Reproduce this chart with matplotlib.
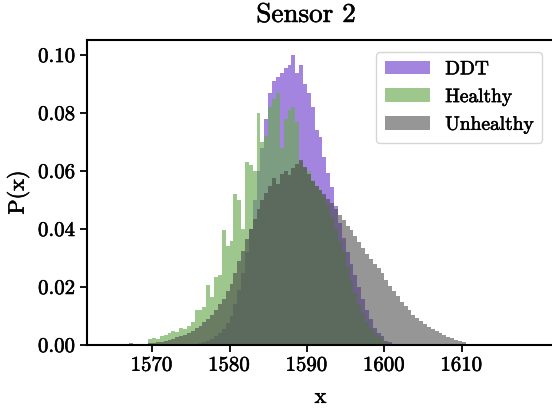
import numpy as np
import matplotlib
matplotlib.use("Agg")
import matplotlib.pyplot as plt
import matplotlib.patheffects as pe

# ---- data (histogram densities, bin width 0.5, left edges from 1566.0) ----
bin_start = 1566.0
bin_width = 0.5

ddt = [
    0, 0,            # 1566
    0, 0,            # 1567
    0, 0,            # 1568
    0, 0,            # 1569
    0, 0,            # 1570
    0, 0,            # 1571
    0, 0.0002,       # 1572
    0.0002, 0.0002,  # 1573
    0.0002, 0.0003,  # 1574
    0.0004, 0.0005,  # 1575
    0.0007, 0.0010,  # 1576
    0.0015, 0.0020,  # 1577
    0.0030, 0.0040,  # 1578
    0.0055, 0.0075,  # 1579
    0.0100, 0.0140,  # 1580
    0.0190, 0.0250,  # 1581
    0.0320, 0.0400,  # 1582
    0.0500, 0.0600,  # 1583
    0.0680, 0.0780,  # 1584
    0.0870, 0.0910,  # 1585
    0.0925, 0.0938,  # 1586
    0.0955, 0.0966,  # 1587
    0.1000, 0.0938,  # 1588
    0.0966, 0.0900,  # 1589
    0.0869, 0.0820,  # 1590
    0.0740, 0.0717,  # 1591
    0.0650, 0.0593,  # 1592
    0.0545, 0.0480,  # 1593
    0.0420, 0.0370,  # 1594
    0.0320, 0.0280,  # 1595
    0.0240, 0.0200,  # 1596
    0.0160, 0.0120,  # 1597
    0.0090, 0.0060,  # 1598
    0.0040, 0.0030,  # 1599
    0.0015, 0.0010,  # 1600
    0.0005, 0,       # 1601
    0, 0, 0, 0, 0, 0, 0, 0, 0, 0,  # 1602-1606
    0, 0, 0, 0, 0, 0, 0, 0, 0, 0,  # 1607-1611
]

healthy = [
    0, 0,            # 1566
    0, 0,            # 1567
    0, 0,            # 1568
    0.0005, 0.0020,  # 1569
    0.0025, 0.0020,  # 1570
    0.0030, 0.0035,  # 1571
    0.0040, 0.0050,  # 1572
    0.0045, 0.0060,  # 1573
    0.0055, 0.0065,  # 1574
    0.0080, 0.0120,  # 1575
    0.0120, 0.0130,  # 1576
    0.0207, 0.0167,  # 1577
    0.0236, 0.0240,  # 1578
    0.0397, 0.0340,  # 1579
    0.0360, 0.0520,  # 1580
    0.0500, 0.0400,  # 1581
    0.0630, 0.0620,  # 1582
    0.0600, 0.0800,  # 1583
    0.0700, 0.0720,  # 1584
    0.0820, 0.0850,  # 1585
    0.0870, 0.0680,  # 1586
    0.0780, 0.0810,  # 1587
    0.0820, 0.0770,  # 1588
    0.0630, 0.0610,  # 1589
    0.0600, 0.0570,  # 1590
    0.0550, 0.0530,  # 1591
    0.0510, 0.0480,  # 1592
    0.0440, 0.0400,  # 1593
    0.0360, 0.0320,  # 1594
    0.0270, 0.0220,  # 1595
    0.0180, 0.0140,  # 1596
    0.0110, 0.0080,  # 1597
    0.0060, 0.0040,  # 1598
    0.0030, 0.0020,  # 1599
    0.0010, 0.0005,  # 1600
    0, 0,            # 1601
    0, 0, 0, 0, 0, 0, 0, 0, 0, 0,  # 1602-1606
    0, 0, 0, 0, 0, 0, 0, 0, 0, 0,  # 1607-1611
]

unhealthy = [
    0, 0,            # 1566
    0.0006, 0,       # 1567
    0, 0.0003,       # 1568
    0.0005, 0.0006,  # 1569
    0.0008, 0.0010,  # 1570
    0.0012, 0.0015,  # 1571
    0.0018, 0.0022,  # 1572
    0.0026, 0.0031,  # 1573
    0.0036, 0.0042,  # 1574
    0.0050, 0.0058,  # 1575
    0.0067, 0.0078,  # 1576
    0.0090, 0.0105,  # 1577
    0.0122, 0.0140,  # 1578
    0.0160, 0.0185,  # 1579
    0.0210, 0.0250,  # 1580
    0.0290, 0.0325,  # 1581
    0.0365, 0.0400,  # 1582
    0.0435, 0.0470,  # 1583
    0.0500, 0.0525,  # 1584
    0.0550, 0.0575,  # 1585
    0.0555, 0.0590,  # 1586
    0.0600, 0.0585,  # 1587
    0.0610, 0.0625,  # 1588
    0.0638, 0.0615,  # 1589
    0.0590, 0.0565,  # 1590
    0.0550, 0.0535,  # 1591
    0.0520, 0.0505,  # 1592
    0.0490, 0.0470,  # 1593
    0.0450, 0.0430,  # 1594
    0.0410, 0.0395,  # 1595
    0.0375, 0.0355,  # 1596
    0.0335, 0.0315,  # 1597
    0.0295, 0.0280,  # 1598
    0.0265, 0.0250,  # 1599
    0.0225, 0.0205,  # 1600
    0.0185, 0.0170,  # 1601
    0.0150, 0.0135,  # 1602
    0.0120, 0.0105,  # 1603
    0.0092, 0.0082,  # 1604
    0.0072, 0.0063,  # 1605
    0.0055, 0.0048,  # 1606
    0.0040, 0.0034,  # 1607
    0.0028, 0.0023,  # 1608
    0.0018, 0.0014,  # 1609
    0.0010, 0.0005,  # 1610
    0, 0,            # 1611
]

series_names = ["DDT", "Healthy", "Unhealthy"]
xticks = [1570, 1580, 1590, 1600, 1610]
yticks = [0.00, 0.02, 0.04, 0.06, 0.08, 0.10]

# ---- style ----
plt.rcParams["font.family"] = ["cmr10", "DejaVu Serif"]
plt.rcParams["mathtext.fontset"] = "cm"
plt.rcParams["axes.formatter.use_mathtext"] = True

fig = plt.figure(figsize=(5.52, 4.12), dpi=100)
ax = fig.add_axes([87 / 552, 67 / 412, 467 / 552, 305 / 412])

left_edges = bin_start + bin_width * np.arange(len(ddt))
colors = ["#9370DB", "#6aaa50", "#404040"]
alphas = [0.85, 0.65, 0.55]
for vals, name, c, a in zip([ddt, healthy, unhealthy], series_names, colors, alphas):
    ax.bar(left_edges, vals, width=bin_width, align="edge", color=c,
           alpha=a, linewidth=0, label=name)

ax.set_xlim(1561.6, 1621.9)
ax.set_ylim(0, 0.1052)
ax.set_xticks(xticks)
ax.set_yticks(yticks)
ax.set_yticklabels([f"{v:.2f}" for v in yticks])
ax.tick_params(labelsize=15, width=1.3, length=5)
for s in ["left", "bottom", "top"]:
    ax.spines[s].set_linewidth(1.5)
ax.spines["right"].set_visible(False)

ax.set_xlabel("x", fontsize=16, labelpad=9)
ax.set_ylabel("P(x)", fontsize=16, labelpad=6)
ax.set_title("Sensor 2", fontsize=19.5, x=0.469, pad=13)
leg = ax.legend(loc="upper right", fontsize=14, handlelength=2.3,
                borderaxespad=0.6, borderpad=0.45)

stroke = [pe.withStroke(linewidth=0.4, foreground="black")]
texts = (ax.get_xticklabels() + ax.get_yticklabels() + leg.get_texts()
         + [ax.xaxis.label, ax.yaxis.label, ax.title])
for t in texts:
    t.set_path_effects(stroke)

fig.savefig("out.png", dpi=100)
